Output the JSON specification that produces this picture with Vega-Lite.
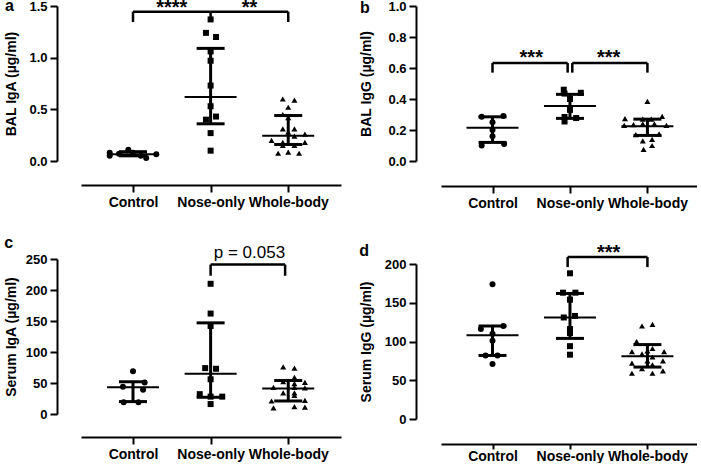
{
  "$schema": "https://vega.github.io/schema/vega-lite/v6.json",
  "padding": {"left": 4, "top": -2, "right": 0, "bottom": 0},
  "background": "white",
  "config": {
    "font": "Liberation Sans",
    "view": {"stroke": null},
    "axis": {"domainColor": "black", "domainWidth": 2, "tickColor": "black", "tickWidth": 2, "labelColor": "black", "labelFont": "Liberation Sans", "labelFontWeight": "bold", "grid": false, "titleColor": "black", "titleFont": "Liberation Sans", "titleFontWeight": "bold", "titleFontSize": 14, "labelOverlap": false},
    "axisX": {"tickSize": 7, "labelFontSize": 14, "labelPadding": 3, "labelBound": false},
    "axisY": {"tickSize": 7, "labelFontSize": 13, "labelPadding": 3},
    "title": {"fontSize": 16, "fontWeight": "bold", "color": "black", "anchor": "start", "frame": "bounds"}
  },
  "datasets": {
    "points": [
      {"panel": "a", "group": "Control", "x": 0.70, "value": 0.08},
      {"panel": "a", "group": "Control", "x": 0.70, "value": 0.05},
      {"panel": "a", "group": "Control", "x": 0.82, "value": 0.07},
      {"panel": "a", "group": "Control", "x": 0.94, "value": 0.11},
      {"panel": "a", "group": "Control", "x": 1.00, "value": 0.08},
      {"panel": "a", "group": "Control", "x": 1.10, "value": 0.05},
      {"panel": "a", "group": "Control", "x": 1.17, "value": 0.03},
      {"panel": "a", "group": "Control", "x": 1.30, "value": 0.065},
      {"panel": "a", "group": "Nose-only", "x": 2.00, "value": 1.37},
      {"panel": "a", "group": "Nose-only", "x": 1.94, "value": 1.24},
      {"panel": "a", "group": "Nose-only", "x": 2.07, "value": 1.20},
      {"panel": "a", "group": "Nose-only", "x": 2.00, "value": 1.06},
      {"panel": "a", "group": "Nose-only", "x": 2.00, "value": 0.97},
      {"panel": "a", "group": "Nose-only", "x": 2.00, "value": 0.73},
      {"panel": "a", "group": "Nose-only", "x": 2.00, "value": 0.53},
      {"panel": "a", "group": "Nose-only", "x": 1.94, "value": 0.40},
      {"panel": "a", "group": "Nose-only", "x": 2.07, "value": 0.43},
      {"panel": "a", "group": "Nose-only", "x": 2.00, "value": 0.27},
      {"panel": "a", "group": "Nose-only", "x": 2.00, "value": 0.10},
      {"panel": "a", "group": "Whole-body", "x": 2.93, "value": 0.60},
      {"panel": "a", "group": "Whole-body", "x": 3.08, "value": 0.59},
      {"panel": "a", "group": "Whole-body", "x": 3.00, "value": 0.52},
      {"panel": "a", "group": "Whole-body", "x": 2.93, "value": 0.45},
      {"panel": "a", "group": "Whole-body", "x": 3.00, "value": 0.42},
      {"panel": "a", "group": "Whole-body", "x": 2.93, "value": 0.31},
      {"panel": "a", "group": "Whole-body", "x": 3.08, "value": 0.31},
      {"panel": "a", "group": "Whole-body", "x": 3.00, "value": 0.28},
      {"panel": "a", "group": "Whole-body", "x": 3.215, "value": 0.26},
      {"panel": "a", "group": "Whole-body", "x": 3.08, "value": 0.24},
      {"panel": "a", "group": "Whole-body", "x": 2.785, "value": 0.20},
      {"panel": "a", "group": "Whole-body", "x": 2.93, "value": 0.18},
      {"panel": "a", "group": "Whole-body", "x": 3.215, "value": 0.18},
      {"panel": "a", "group": "Whole-body", "x": 2.93, "value": 0.15},
      {"panel": "a", "group": "Whole-body", "x": 3.08, "value": 0.15},
      {"panel": "a", "group": "Whole-body", "x": 2.87, "value": 0.075},
      {"panel": "a", "group": "Whole-body", "x": 3.00, "value": 0.085},
      {"panel": "a", "group": "Whole-body", "x": 3.14, "value": 0.075},
      {"panel": "b", "group": "Control", "x": 0.86, "value": 0.285},
      {"panel": "b", "group": "Control", "x": 1.14, "value": 0.29},
      {"panel": "b", "group": "Control", "x": 1.00, "value": 0.25},
      {"panel": "b", "group": "Control", "x": 1.00, "value": 0.20},
      {"panel": "b", "group": "Control", "x": 1.00, "value": 0.16},
      {"panel": "b", "group": "Control", "x": 0.86, "value": 0.10},
      {"panel": "b", "group": "Control", "x": 1.15, "value": 0.11},
      {"panel": "b", "group": "Nose-only", "x": 1.92, "value": 0.46},
      {"panel": "b", "group": "Nose-only", "x": 1.93, "value": 0.435},
      {"panel": "b", "group": "Nose-only", "x": 2.14, "value": 0.44},
      {"panel": "b", "group": "Nose-only", "x": 2.00, "value": 0.40},
      {"panel": "b", "group": "Nose-only", "x": 2.00, "value": 0.33},
      {"panel": "b", "group": "Nose-only", "x": 1.93, "value": 0.284},
      {"panel": "b", "group": "Nose-only", "x": 2.08, "value": 0.277},
      {"panel": "b", "group": "Nose-only", "x": 1.93, "value": 0.255},
      {"panel": "b", "group": "Whole-body", "x": 3.00, "value": 0.385},
      {"panel": "b", "group": "Whole-body", "x": 2.71, "value": 0.273},
      {"panel": "b", "group": "Whole-body", "x": 3.19, "value": 0.288},
      {"panel": "b", "group": "Whole-body", "x": 2.94, "value": 0.27},
      {"panel": "b", "group": "Whole-body", "x": 3.05, "value": 0.27},
      {"panel": "b", "group": "Whole-body", "x": 2.70, "value": 0.23},
      {"panel": "b", "group": "Whole-body", "x": 2.82, "value": 0.235},
      {"panel": "b", "group": "Whole-body", "x": 2.94, "value": 0.24},
      {"panel": "b", "group": "Whole-body", "x": 3.09, "value": 0.24},
      {"panel": "b", "group": "Whole-body", "x": 3.245, "value": 0.23},
      {"panel": "b", "group": "Whole-body", "x": 2.85, "value": 0.17},
      {"panel": "b", "group": "Whole-body", "x": 3.15, "value": 0.175},
      {"panel": "b", "group": "Whole-body", "x": 2.94, "value": 0.13},
      {"panel": "b", "group": "Whole-body", "x": 3.06, "value": 0.14},
      {"panel": "b", "group": "Whole-body", "x": 2.95, "value": 0.075},
      {"panel": "b", "group": "Whole-body", "x": 3.06, "value": 0.10},
      {"panel": "c", "group": "Control", "x": 1.00, "value": 69},
      {"panel": "c", "group": "Control", "x": 0.87, "value": 44},
      {"panel": "c", "group": "Control", "x": 1.15, "value": 51},
      {"panel": "c", "group": "Control", "x": 1.13, "value": 39},
      {"panel": "c", "group": "Control", "x": 0.88, "value": 19},
      {"panel": "c", "group": "Control", "x": 1.07, "value": 19},
      {"panel": "c", "group": "Nose-only", "x": 2.00, "value": 210},
      {"panel": "c", "group": "Nose-only", "x": 2.00, "value": 162},
      {"panel": "c", "group": "Nose-only", "x": 2.00, "value": 142},
      {"panel": "c", "group": "Nose-only", "x": 1.93, "value": 74},
      {"panel": "c", "group": "Nose-only", "x": 2.07, "value": 73},
      {"panel": "c", "group": "Nose-only", "x": 2.00, "value": 56},
      {"panel": "c", "group": "Nose-only", "x": 1.86, "value": 32},
      {"panel": "c", "group": "Nose-only", "x": 2.00, "value": 28},
      {"panel": "c", "group": "Nose-only", "x": 2.15, "value": 28},
      {"panel": "c", "group": "Nose-only", "x": 2.00, "value": 16},
      {"panel": "c", "group": "Whole-body", "x": 2.935, "value": 76},
      {"panel": "c", "group": "Whole-body", "x": 3.08, "value": 74},
      {"panel": "c", "group": "Whole-body", "x": 3.08, "value": 59},
      {"panel": "c", "group": "Whole-body", "x": 3.215, "value": 51},
      {"panel": "c", "group": "Whole-body", "x": 2.935, "value": 52},
      {"panel": "c", "group": "Whole-body", "x": 3.08, "value": 49},
      {"panel": "c", "group": "Whole-body", "x": 2.81, "value": 43},
      {"panel": "c", "group": "Whole-body", "x": 3.08, "value": 43},
      {"panel": "c", "group": "Whole-body", "x": 3.215, "value": 42},
      {"panel": "c", "group": "Whole-body", "x": 2.935, "value": 34},
      {"panel": "c", "group": "Whole-body", "x": 3.08, "value": 34},
      {"panel": "c", "group": "Whole-body", "x": 3.08, "value": 30},
      {"panel": "c", "group": "Whole-body", "x": 2.785, "value": 21},
      {"panel": "c", "group": "Whole-body", "x": 3.215, "value": 22},
      {"panel": "c", "group": "Whole-body", "x": 2.81, "value": 10},
      {"panel": "c", "group": "Whole-body", "x": 3.08, "value": 12},
      {"panel": "c", "group": "Whole-body", "x": 3.215, "value": 11},
      {"panel": "d", "group": "Control", "x": 1.00, "value": 174},
      {"panel": "d", "group": "Control", "x": 0.85, "value": 116},
      {"panel": "d", "group": "Control", "x": 1.14, "value": 120},
      {"panel": "d", "group": "Control", "x": 1.00, "value": 110},
      {"panel": "d", "group": "Control", "x": 1.00, "value": 101},
      {"panel": "d", "group": "Control", "x": 0.91, "value": 82},
      {"panel": "d", "group": "Control", "x": 1.065, "value": 82},
      {"panel": "d", "group": "Control", "x": 1.00, "value": 71},
      {"panel": "d", "group": "Nose-only", "x": 2.00, "value": 188},
      {"panel": "d", "group": "Nose-only", "x": 1.91, "value": 163},
      {"panel": "d", "group": "Nose-only", "x": 2.07, "value": 163},
      {"panel": "d", "group": "Nose-only", "x": 2.00, "value": 154},
      {"panel": "d", "group": "Nose-only", "x": 1.92, "value": 131},
      {"panel": "d", "group": "Nose-only", "x": 2.065, "value": 133},
      {"panel": "d", "group": "Nose-only", "x": 2.00, "value": 116},
      {"panel": "d", "group": "Nose-only", "x": 2.00, "value": 111},
      {"panel": "d", "group": "Nose-only", "x": 2.00, "value": 94},
      {"panel": "d", "group": "Nose-only", "x": 2.00, "value": 83},
      {"panel": "d", "group": "Whole-body", "x": 2.93, "value": 120},
      {"panel": "d", "group": "Whole-body", "x": 3.065, "value": 122},
      {"panel": "d", "group": "Whole-body", "x": 2.86, "value": 100},
      {"panel": "d", "group": "Whole-body", "x": 3.065, "value": 91},
      {"panel": "d", "group": "Whole-body", "x": 3.00, "value": 88},
      {"panel": "d", "group": "Whole-body", "x": 2.80, "value": 87},
      {"panel": "d", "group": "Whole-body", "x": 3.215, "value": 87},
      {"panel": "d", "group": "Whole-body", "x": 2.93, "value": 84},
      {"panel": "d", "group": "Whole-body", "x": 3.065, "value": 80},
      {"panel": "d", "group": "Whole-body", "x": 2.80, "value": 72},
      {"panel": "d", "group": "Whole-body", "x": 3.00, "value": 75},
      {"panel": "d", "group": "Whole-body", "x": 3.20, "value": 75},
      {"panel": "d", "group": "Whole-body", "x": 2.93, "value": 65},
      {"panel": "d", "group": "Whole-body", "x": 3.065, "value": 70},
      {"panel": "d", "group": "Whole-body", "x": 2.80, "value": 59},
      {"panel": "d", "group": "Whole-body", "x": 3.065, "value": 59},
      {"panel": "d", "group": "Whole-body", "x": 3.20, "value": 62}
    ],
    "summary": [
      {"panel": "a", "x": 1, "med": 0.065, "q1": 0.05, "q3": 0.09},
      {"panel": "a", "x": 2, "med": 0.62, "q1": 0.36, "q3": 1.09},
      {"panel": "a", "x": 3, "med": 0.245, "q1": 0.16, "q3": 0.44},
      {"panel": "b", "x": 1, "med": 0.215, "q1": 0.12, "q3": 0.285},
      {"panel": "b", "x": 2, "med": 0.355, "q1": 0.275, "q3": 0.43},
      {"panel": "b", "x": 3, "med": 0.225, "q1": 0.165, "q3": 0.27},
      {"panel": "c", "x": 1, "med": 43, "q1": 20, "q3": 52},
      {"panel": "c", "x": 2, "med": 65, "q1": 27, "q3": 147},
      {"panel": "c", "x": 3, "med": 41, "q1": 21, "q3": 54},
      {"panel": "d", "x": 1, "med": 108, "q1": 82, "q3": 120},
      {"panel": "d", "x": 2, "med": 131, "q1": 104, "q3": 162},
      {"panel": "d", "x": 3, "med": 81, "q1": 67, "q3": 96}
    ],
    "brackets": [
      {"panel": "a", "x": 1, "x2": 2, "top": 1.445},
      {"panel": "a", "x": 2, "x2": 3, "top": 1.445},
      {"panel": "b", "x": 1, "x2": 1.97, "top": 0.632},
      {"panel": "b", "x": 2.03, "x2": 3, "top": 0.632},
      {"panel": "c", "x": 2, "x2": 2.96, "top": 241},
      {"panel": "d", "x": 1.97, "x2": 3, "top": 209}
    ],
    "drops": [
      {"panel": "a", "x": 1, "top": 1.445, "low": 1.345},
      {"panel": "a", "x": 2, "top": 1.445, "low": 1.345},
      {"panel": "a", "x": 3, "top": 1.445, "low": 1.345},
      {"panel": "b", "x": 1, "top": 0.632, "low": 0.57},
      {"panel": "b", "x": 1.97, "top": 0.632, "low": 0.57},
      {"panel": "b", "x": 2.03, "top": 0.632, "low": 0.57},
      {"panel": "b", "x": 3, "top": 0.632, "low": 0.57},
      {"panel": "c", "x": 2, "top": 241, "low": 223},
      {"panel": "c", "x": 2.96, "top": 241, "low": 223},
      {"panel": "d", "x": 1.97, "top": 209, "low": 196},
      {"panel": "d", "x": 3, "top": 209, "low": 196}
    ],
    "labels": [
      {"panel": "a", "x": 1.5, "y": 1.42, "text": "****"},
      {"panel": "a", "x": 2.5, "y": 1.42, "text": "**"},
      {"panel": "b", "x": 1.5, "y": 0.625, "text": "***"},
      {"panel": "b", "x": 2.5, "y": 0.625, "text": "***"},
      {"panel": "c", "x": 2.5, "y": 251, "text": "p = 0.053"},
      {"panel": "d", "x": 2.5, "y": 206, "text": "***"}
    ]
  },
  "spacing": 18,
  "hconcat": [
    {
      "spacing": 26,
      "vconcat": [
        {
          "width": 260, "height": 155,
          "title": {"text": "a", "offset": -16},
          "encoding": {"x": {"field": "x", "type": "quantitative", "scale": {"domain": [0.33, 3.68]}, "axis": {"values": [1, 2, 3], "labelExpr": "datum.value == 1 ? 'Control' : datum.value == 2 ? 'Nose-only' : 'Whole-body'", "title": null, "offset": 24}}},
          "layer": [
            {"data": {"name": "points"}, "transform": [{"filter": "datum.panel == 'a'"}],
             "mark": {"type": "point", "filled": true, "opacity": 1, "size": 36, "color": "black"},
             "encoding": {
               "y": {"field": "value", "type": "quantitative", "scale": {"domain": [0, 1.5]}, "axis": {"values": [0, 0.5, 1, 1.5], "tickCount": 4, "labelOverlap": false, "format": ".1f", "title": "BAL IgA (µg/ml)", "offset": 24, "titlePadding": 10}},
               "shape": {"field": "group", "type": "nominal", "scale": {"domain": ["Control", "Nose-only", "Whole-body"], "range": ["circle", "square", "triangle-up"]}, "legend": null}
             }},
            {"data": {"name": "summary"}, "transform": [{"filter": "datum.panel == 'a'"}],
             "mark": {"type": "rule", "strokeWidth": 3, "color": "black"},
             "encoding": {"y": {"field": "q1", "type": "quantitative", "scale": {"domain": [0, 1.5]}}, "y2": {"field": "q3"}}},
            {"data": {"name": "summary"}, "transform": [{"filter": "datum.panel == 'a'"}],
             "mark": {"type": "tick", "orient": "horizontal", "size": 28, "thickness": 3, "color": "black", "opacity": 1},
             "encoding": {"y": {"field": "q1", "type": "quantitative", "scale": {"domain": [0, 1.5]}}}},
            {"data": {"name": "summary"}, "transform": [{"filter": "datum.panel == 'a'"}],
             "mark": {"type": "tick", "orient": "horizontal", "size": 28, "thickness": 3, "color": "black", "opacity": 1},
             "encoding": {"y": {"field": "q3", "type": "quantitative", "scale": {"domain": [0, 1.5]}}}},
            {"data": {"name": "summary"}, "transform": [{"filter": "datum.panel == 'a'"}],
             "mark": {"type": "tick", "orient": "horizontal", "size": 52, "thickness": 2, "color": "black", "opacity": 1},
             "encoding": {"y": {"field": "med", "type": "quantitative", "scale": {"domain": [0, 1.5]}}}},
            {"data": {"name": "brackets"}, "transform": [{"filter": "datum.panel == 'a'"}],
             "mark": {"type": "rule", "strokeWidth": 2.5, "color": "black"},
             "encoding": {"x2": {"field": "x2"}, "y": {"field": "top", "type": "quantitative", "scale": {"domain": [0, 1.5]}}}},
            {"data": {"name": "drops"}, "transform": [{"filter": "datum.panel == 'a'"}],
             "mark": {"type": "rule", "strokeWidth": 2.5, "color": "black"},
             "encoding": {"y": {"field": "top", "type": "quantitative", "scale": {"domain": [0, 1.5]}}, "y2": {"field": "low"}}},
            {"data": {"name": "labels"}, "transform": [{"filter": "datum.panel == 'a'"}],
             "mark": {"type": "text", "fontSize": 20, "fontWeight": "bold", "baseline": "alphabetic", "align": "center", "color": "black"},
             "encoding": {"y": {"field": "y", "type": "quantitative", "scale": {"domain": [0, 1.5]}}, "text": {"field": "text"}}}
          ]
        },
        {
          "width": 260, "height": 155,
          "title": {"text": "c", "offset": -7},
          "encoding": {"x": {"field": "x", "type": "quantitative", "scale": {"domain": [0.33, 3.68]}, "axis": {"values": [1, 2, 3], "labelExpr": "datum.value == 1 ? 'Control' : datum.value == 2 ? 'Nose-only' : 'Whole-body'", "title": null, "offset": 23}}},
          "layer": [
            {"data": {"name": "points"}, "transform": [{"filter": "datum.panel == 'c'"}],
             "mark": {"type": "point", "filled": true, "opacity": 1, "size": 36, "color": "black"},
             "encoding": {
               "y": {"field": "value", "type": "quantitative", "scale": {"domain": [0, 250]}, "axis": {"values": [0, 50, 100, 150, 200, 250], "tickCount": 6, "labelOverlap": false, "format": "d", "title": "Serum IgA (µg/ml)", "offset": 24, "titlePadding": 7}},
               "shape": {"field": "group", "type": "nominal", "scale": {"domain": ["Control", "Nose-only", "Whole-body"], "range": ["circle", "square", "triangle-up"]}, "legend": null}
             }},
            {"data": {"name": "summary"}, "transform": [{"filter": "datum.panel == 'c'"}],
             "mark": {"type": "rule", "strokeWidth": 3, "color": "black"},
             "encoding": {"y": {"field": "q1", "type": "quantitative", "scale": {"domain": [0, 250]}}, "y2": {"field": "q3"}}},
            {"data": {"name": "summary"}, "transform": [{"filter": "datum.panel == 'c'"}],
             "mark": {"type": "tick", "orient": "horizontal", "size": 28, "thickness": 3, "color": "black", "opacity": 1},
             "encoding": {"y": {"field": "q1", "type": "quantitative", "scale": {"domain": [0, 250]}}}},
            {"data": {"name": "summary"}, "transform": [{"filter": "datum.panel == 'c'"}],
             "mark": {"type": "tick", "orient": "horizontal", "size": 28, "thickness": 3, "color": "black", "opacity": 1},
             "encoding": {"y": {"field": "q3", "type": "quantitative", "scale": {"domain": [0, 250]}}}},
            {"data": {"name": "summary"}, "transform": [{"filter": "datum.panel == 'c'"}],
             "mark": {"type": "tick", "orient": "horizontal", "size": 52, "thickness": 2, "color": "black", "opacity": 1},
             "encoding": {"y": {"field": "med", "type": "quantitative", "scale": {"domain": [0, 250]}}}},
            {"data": {"name": "brackets"}, "transform": [{"filter": "datum.panel == 'c'"}],
             "mark": {"type": "rule", "strokeWidth": 2.5, "color": "black"},
             "encoding": {"x2": {"field": "x2"}, "y": {"field": "top", "type": "quantitative", "scale": {"domain": [0, 250]}}}},
            {"data": {"name": "drops"}, "transform": [{"filter": "datum.panel == 'c'"}],
             "mark": {"type": "rule", "strokeWidth": 2.5, "color": "black"},
             "encoding": {"y": {"field": "top", "type": "quantitative", "scale": {"domain": [0, 250]}}, "y2": {"field": "low"}}},
            {"data": {"name": "labels"}, "transform": [{"filter": "datum.panel == 'c'"}],
             "mark": {"type": "text", "fontSize": 17, "fontWeight": "normal", "baseline": "alphabetic", "align": "center", "color": "black"},
             "encoding": {"y": {"field": "y", "type": "quantitative", "scale": {"domain": [0, 250]}}, "text": {"field": "text"}}}
          ]
        }
      ]
    },
    {
      "spacing": 33,
      "vconcat": [
        {
          "width": 256, "height": 155,
          "title": {"text": "b", "offset": -16},
          "encoding": {"x": {"field": "x", "type": "quantitative", "scale": {"domain": [0.335, 3.64]}, "axis": {"values": [1, 2, 3], "labelExpr": "datum.value == 1 ? 'Control' : datum.value == 2 ? 'Nose-only' : 'Whole-body'", "title": null, "offset": 25}}},
          "layer": [
            {"data": {"name": "points"}, "transform": [{"filter": "datum.panel == 'b'"}],
             "mark": {"type": "point", "filled": true, "opacity": 1, "size": 36, "color": "black"},
             "encoding": {
               "y": {"field": "value", "type": "quantitative", "scale": {"domain": [0, 1]}, "axis": {"values": [0, 0.2, 0.4, 0.6, 0.8, 1.0], "tickCount": 6, "labelOverlap": false, "format": ".1f", "title": "BAL IgG (µg/ml)", "offset": 25, "titlePadding": 14}},
               "shape": {"field": "group", "type": "nominal", "scale": {"domain": ["Control", "Nose-only", "Whole-body"], "range": ["circle", "square", "triangle-up"]}, "legend": null}
             }},
            {"data": {"name": "summary"}, "transform": [{"filter": "datum.panel == 'b'"}],
             "mark": {"type": "rule", "strokeWidth": 3, "color": "black"},
             "encoding": {"y": {"field": "q1", "type": "quantitative", "scale": {"domain": [0, 1]}}, "y2": {"field": "q3"}}},
            {"data": {"name": "summary"}, "transform": [{"filter": "datum.panel == 'b'"}],
             "mark": {"type": "tick", "orient": "horizontal", "size": 28, "thickness": 3, "color": "black", "opacity": 1},
             "encoding": {"y": {"field": "q1", "type": "quantitative", "scale": {"domain": [0, 1]}}}},
            {"data": {"name": "summary"}, "transform": [{"filter": "datum.panel == 'b'"}],
             "mark": {"type": "tick", "orient": "horizontal", "size": 28, "thickness": 3, "color": "black", "opacity": 1},
             "encoding": {"y": {"field": "q3", "type": "quantitative", "scale": {"domain": [0, 1]}}}},
            {"data": {"name": "summary"}, "transform": [{"filter": "datum.panel == 'b'"}],
             "mark": {"type": "tick", "orient": "horizontal", "size": 52, "thickness": 2, "color": "black", "opacity": 1},
             "encoding": {"y": {"field": "med", "type": "quantitative", "scale": {"domain": [0, 1]}}}},
            {"data": {"name": "brackets"}, "transform": [{"filter": "datum.panel == 'b'"}],
             "mark": {"type": "rule", "strokeWidth": 2.5, "color": "black"},
             "encoding": {"x2": {"field": "x2"}, "y": {"field": "top", "type": "quantitative", "scale": {"domain": [0, 1]}}}},
            {"data": {"name": "drops"}, "transform": [{"filter": "datum.panel == 'b'"}],
             "mark": {"type": "rule", "strokeWidth": 2.5, "color": "black"},
             "encoding": {"y": {"field": "top", "type": "quantitative", "scale": {"domain": [0, 1]}}, "y2": {"field": "low"}}},
            {"data": {"name": "labels"}, "transform": [{"filter": "datum.panel == 'b'"}],
             "mark": {"type": "text", "fontSize": 20, "fontWeight": "bold", "baseline": "alphabetic", "align": "center", "color": "black"},
             "encoding": {"y": {"field": "y", "type": "quantitative", "scale": {"domain": [0, 1]}}, "text": {"field": "text"}}}
          ]
        },
        {
          "width": 256, "height": 155,
          "title": {"text": "d", "offset": -16},
          "encoding": {"x": {"field": "x", "type": "quantitative", "scale": {"domain": [0.335, 3.64]}, "axis": {"values": [1, 2, 3], "labelExpr": "datum.value == 1 ? 'Control' : datum.value == 2 ? 'Nose-only' : 'Whole-body'", "title": null, "offset": 25, "tickSize": 5, "labelPadding": 0}}},
          "layer": [
            {"data": {"name": "points"}, "transform": [{"filter": "datum.panel == 'd'"}],
             "mark": {"type": "point", "filled": true, "opacity": 1, "size": 36, "color": "black"},
             "encoding": {
               "y": {"field": "value", "type": "quantitative", "scale": {"domain": [0, 200]}, "axis": {"values": [0, 50, 100, 150, 200], "tickCount": 5, "labelOverlap": false, "format": "d", "title": "Serum IgG (µg/ml)", "offset": 25, "titlePadding": 11}},
               "shape": {"field": "group", "type": "nominal", "scale": {"domain": ["Control", "Nose-only", "Whole-body"], "range": ["circle", "square", "triangle-up"]}, "legend": null}
             }},
            {"data": {"name": "summary"}, "transform": [{"filter": "datum.panel == 'd'"}],
             "mark": {"type": "rule", "strokeWidth": 3, "color": "black"},
             "encoding": {"y": {"field": "q1", "type": "quantitative", "scale": {"domain": [0, 200]}}, "y2": {"field": "q3"}}},
            {"data": {"name": "summary"}, "transform": [{"filter": "datum.panel == 'd'"}],
             "mark": {"type": "tick", "orient": "horizontal", "size": 28, "thickness": 3, "color": "black", "opacity": 1},
             "encoding": {"y": {"field": "q1", "type": "quantitative", "scale": {"domain": [0, 200]}}}},
            {"data": {"name": "summary"}, "transform": [{"filter": "datum.panel == 'd'"}],
             "mark": {"type": "tick", "orient": "horizontal", "size": 28, "thickness": 3, "color": "black", "opacity": 1},
             "encoding": {"y": {"field": "q3", "type": "quantitative", "scale": {"domain": [0, 200]}}}},
            {"data": {"name": "summary"}, "transform": [{"filter": "datum.panel == 'd'"}],
             "mark": {"type": "tick", "orient": "horizontal", "size": 52, "thickness": 2, "color": "black", "opacity": 1},
             "encoding": {"y": {"field": "med", "type": "quantitative", "scale": {"domain": [0, 200]}}}},
            {"data": {"name": "brackets"}, "transform": [{"filter": "datum.panel == 'd'"}],
             "mark": {"type": "rule", "strokeWidth": 2.5, "color": "black"},
             "encoding": {"x2": {"field": "x2"}, "y": {"field": "top", "type": "quantitative", "scale": {"domain": [0, 200]}}}},
            {"data": {"name": "drops"}, "transform": [{"filter": "datum.panel == 'd'"}],
             "mark": {"type": "rule", "strokeWidth": 2.5, "color": "black"},
             "encoding": {"y": {"field": "top", "type": "quantitative", "scale": {"domain": [0, 200]}}, "y2": {"field": "low"}}},
            {"data": {"name": "labels"}, "transform": [{"filter": "datum.panel == 'd'"}],
             "mark": {"type": "text", "fontSize": 20, "fontWeight": "bold", "baseline": "alphabetic", "align": "center", "color": "black"},
             "encoding": {"y": {"field": "y", "type": "quantitative", "scale": {"domain": [0, 200]}}, "text": {"field": "text"}}}
          ]
        }
      ]
    }
  ]
}
